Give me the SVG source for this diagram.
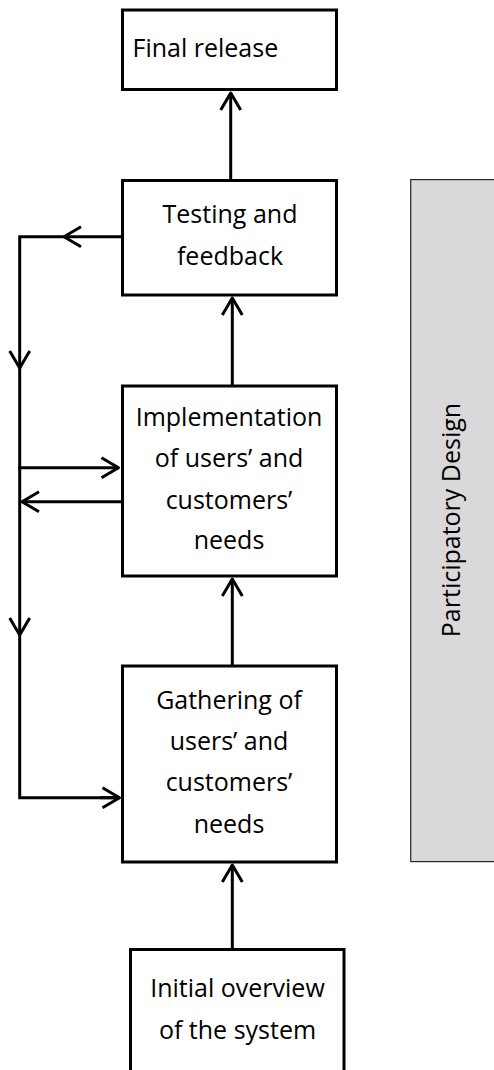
<svg xmlns="http://www.w3.org/2000/svg" width="494" height="1070" viewBox="0 0 494 1070">
<style>
.box{fill:#ffffff;stroke:#000000;stroke-width:3}
.lbl{font-family:"Open Sans","Liberation Sans",sans-serif;font-size:25px;fill:#000000}
.c{text-anchor:middle}
.conn{fill:none;stroke:#000000;stroke-width:3}
.band{fill:#d9d9d9;stroke:#262626;stroke-width:1.2}
</style>
<defs>
<marker id="arr" markerUnits="userSpaceOnUse" markerWidth="30" markerHeight="30" viewBox="-20 -15 24 30" refX="0" refY="0" orient="auto">
<path d="M -17 -10 L 0 0 L -17 10" fill="none" stroke="#000000" stroke-width="3" stroke-linejoin="round" stroke-linecap="butt"/>
</marker>
</defs>
<g id="band">
<rect class="band" x="410.7" y="179.6" width="100" height="682"/>
<text class="lbl c" font-size="24" transform="translate(460,520) rotate(-90)">Participatory Design</text>
</g>
<g id="connectors">
<path class="conn" d="M230.7 180 L230.7 93" marker-end="url(#arr)"/>
<path class="conn" d="M232.3 386 L232.3 298" marker-end="url(#arr)"/>
<path class="conn" d="M232.3 666 L232.3 579" marker-end="url(#arr)"/>
<path class="conn" d="M232.3 949 L232.3 865" marker-end="url(#arr)"/>
<path class="conn" d="M122 236.7 L64 236.7" marker-end="url(#arr)"/>
<path class="conn" d="M64 236.7 L19.7 236.7 L19.7 368" marker-end="url(#arr)"/>
<path class="conn" d="M19.7 368 L19.7 635" marker-end="url(#arr)"/>
<path class="conn" d="M19.7 635 L19.7 797.7 L119.5 797.7"/>
<path class="conn" d="M100 797.7 L119.5 797.7" marker-end="url(#arr)"/>
<path class="conn" d="M18.2 467.7 L118.5 467.7" marker-end="url(#arr)"/>
<path class="conn" d="M122 501.7 L22 501.7" marker-end="url(#arr)"/>
</g>
<g id="final-release">
<rect class="box" x="122.5" y="10" width="214" height="79.5"/>
<text class="lbl" x="132.5" y="57">Final release</text>
</g>
<g id="testing">
<rect class="box" x="122.5" y="180.5" width="214" height="114.5"/>
<text class="lbl c" x="230" y="222.5">Testing and</text>
<text class="lbl c" x="230" y="265">feedback</text>
</g>
<g id="implementation">
<rect class="box" x="122.5" y="386" width="214" height="190"/>
<text class="lbl c" x="229" y="426">Implementation</text>
<text class="lbl c" x="229" y="467">of users’ and</text>
<text class="lbl c" x="229" y="508.5">customers’</text>
<text class="lbl c" x="229" y="549">needs</text>
</g>
<g id="gathering">
<rect class="box" x="122.5" y="666" width="214" height="196"/>
<text class="lbl c" x="229" y="708.5">Gathering of</text>
<text class="lbl c" x="229" y="750">users’ and</text>
<text class="lbl c" x="229" y="791">customers’</text>
<text class="lbl c" x="229" y="832.5">needs</text>
</g>
<g id="initial-overview">
<rect class="box" x="130.5" y="949.5" width="213.5" height="140"/>
<text class="lbl c" x="237.5" y="997">Initial overview</text>
<text class="lbl c" x="237.5" y="1038.5">of the system</text>
</g>
</svg>
